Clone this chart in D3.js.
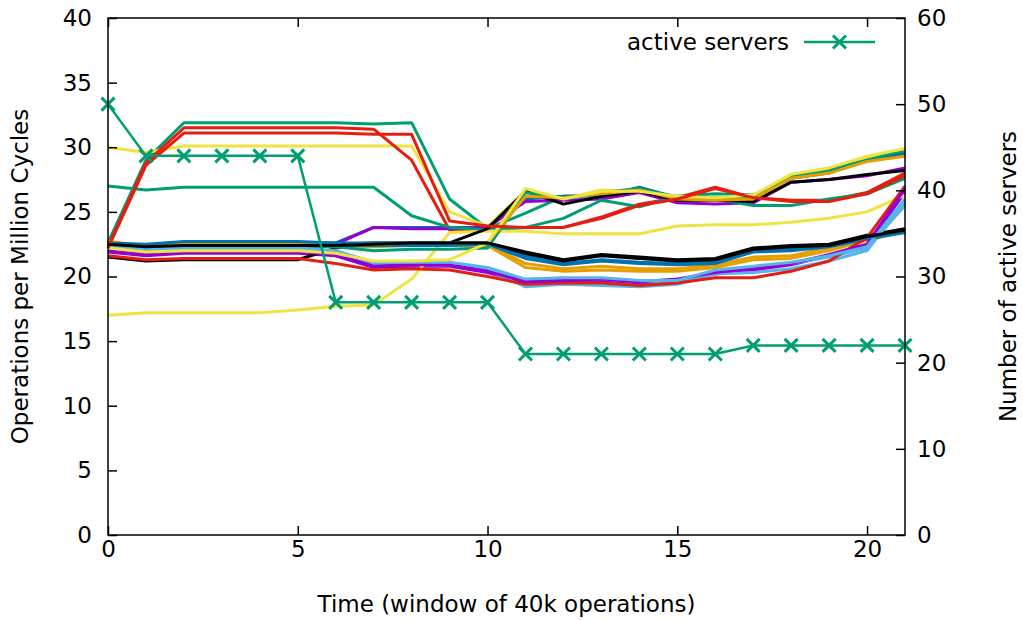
<!DOCTYPE html>
<html>
<head>
<meta charset="utf-8">
<script src="https://cdn.jsdelivr.net/npm/d3@7"></script>
<style>
  html, body { margin: 0; padding: 0; background: #fff; }
  svg { display: block; font-family: "DejaVu Sans", sans-serif; }
</style>
</head>
<body>
<svg id="chart" width="1023" height="621"></svg>
<script>
// Time windows (40k operations each)
const windows = d3.range(0, 22);

// Per-server throughput (operations per million cycles), one array per server
const s01 = [21.9,21.6,21.8,21.8,21.8,21.8,21.6,20.7,20.8,20.8,20.3,19.5,19.6,19.7,19.5,19.7,20.2,20.5,20.9,21.6,22.4,26.5];
const s02 = [22.6,29.0,31.9,31.9,31.9,31.9,31.9,31.8,31.9,26.0,23.7,24.9,26.2,26.3,26.7,26.2,26.4,26.3,27.6,28.2,29.0,29.6];
const s03 = [22.3,22.0,22.1,22.1,22.1,22.1,21.8,21.0,21.0,21.0,20.6,19.7,19.8,19.8,19.6,19.6,20.4,20.7,21.0,21.5,22.2,25.5];
const s04 = [22.6,22.3,22.5,22.5,22.5,22.5,22.4,22.4,22.5,22.5,22.5,21.0,20.6,20.8,20.6,20.6,20.9,21.5,21.6,22.2,23.0,23.4];
const s05 = [30.0,29.6,30.1,30.1,30.1,30.1,30.1,30.1,30.1,25.0,23.9,26.6,26.0,26.7,26.6,26.2,26.0,26.2,27.9,28.4,29.2,29.8];
const s06 = [22.6,22.4,22.6,22.6,22.6,22.6,22.6,23.8,23.8,23.8,23.8,26.0,26.2,26.2,26.9,26.1,26.0,26.2,27.6,28.0,29.0,29.5];
const s07 = [22.3,28.8,31.5,31.5,31.5,31.5,31.5,31.4,29.0,23.6,23.7,23.8,23.8,24.6,25.6,26.1,26.9,26.1,25.9,25.9,26.5,28.0];
const s08 = [21.5,21.2,21.3,21.3,21.3,21.3,22.2,22.5,22.6,22.6,22.6,21.9,21.3,21.7,21.5,21.3,21.4,22.2,22.4,22.5,23.2,23.7];
const s09 = [22.4,22.1,22.3,22.3,22.3,22.3,22.5,23.8,23.7,23.7,23.8,25.8,25.9,26.0,26.5,25.7,25.6,25.7,27.3,27.5,27.8,28.4];
const s10 = [27.0,26.7,26.9,26.9,26.9,26.9,26.9,26.9,24.7,23.8,23.6,23.8,24.5,25.9,25.4,26.2,26.0,25.5,25.5,26.0,26.4,27.6];
const s11 = [22.2,21.9,22.0,22.0,22.0,22.0,21.8,20.9,20.9,20.9,20.5,19.2,19.4,19.3,19.2,19.4,20.2,20.3,20.6,21.2,22.0,25.8];
const s12 = [22.5,22.2,22.4,22.4,22.4,22.4,22.3,22.3,22.4,22.4,22.4,20.7,20.4,20.5,20.4,20.4,20.7,21.3,21.4,22.0,22.8,23.5];
const s13 = [17.0,17.2,17.2,17.2,17.2,17.4,17.7,17.8,19.8,23.4,23.5,23.5,23.3,23.3,23.3,23.9,24.0,24.0,24.2,24.5,25.0,26.3];
const s14 = [22.5,22.3,22.5,22.5,22.5,22.5,22.4,22.4,22.4,22.4,22.5,21.4,20.9,21.2,21.0,20.9,21.0,21.9,22.0,22.3,22.9,23.4];
const s15 = [21.6,21.3,21.4,21.4,21.4,21.4,21.0,20.5,20.6,20.5,20.0,19.4,19.5,19.5,19.3,19.5,19.9,19.9,20.4,21.2,23.0,27.0];
const s16 = [22.4,22.1,22.3,22.3,22.3,22.3,22.5,22.6,22.6,22.6,23.7,26.6,25.6,26.2,26.6,25.9,25.9,25.8,27.3,27.5,27.9,28.2];
const s17 = [22.0,21.7,21.9,21.9,21.9,21.9,21.7,20.8,20.9,20.9,20.4,19.6,19.7,19.8,19.6,19.8,20.3,20.6,21.0,21.7,22.5,26.8];
const s18 = [22.3,22.2,22.3,22.3,22.3,22.3,22.3,22.0,22.1,22.1,22.2,26.5,26.0,26.5,26.8,26.1,26.1,26.0,27.8,28.3,29.0,29.8];
const s19 = [22.4,22.1,22.2,22.2,22.2,22.2,22.0,21.1,21.1,21.1,20.7,19.8,19.9,19.9,19.7,19.7,20.5,20.8,21.1,21.6,22.3,26.0];
const s20 = [22.7,22.4,22.6,22.6,22.6,22.6,22.5,22.5,22.6,22.6,22.6,26.2,26.1,26.4,26.7,26.0,25.9,26.0,27.6,28.0,28.9,29.3];
const s21 = [22.2,21.9,22.0,22.0,22.0,22.0,21.8,21.2,21.2,21.3,22.6,26.8,26.0,26.6,26.6,26.2,26.1,26.3,27.9,28.4,29.3,29.9];
const s22 = [22.6,22.5,22.7,22.7,22.7,22.7,22.6,22.6,22.6,22.6,22.6,21.6,21.0,21.3,21.1,21.0,21.1,22.0,22.1,22.4,23.0,23.5];
const s23 = [22.2,28.6,31.1,31.1,31.1,31.1,31.1,31.0,31.0,24.3,23.9,23.8,23.8,24.5,25.5,26.0,26.8,26.1,25.8,25.8,26.4,27.8];
const s24 = [22.5,22.3,22.4,22.4,22.4,22.4,22.4,22.5,22.6,22.6,22.6,21.8,21.2,21.6,21.4,21.2,21.3,22.1,22.3,22.4,23.1,23.6];

const serverSeries = [s01,s02,s03,s04,s05,s06,s07,s08,s09,s10,s11,s12,
                      s13,s14,s15,s16,s17,s18,s19,s20,s21,s22,s23,s24];

// Number of active servers per window (right axis)
const activeServers = [50,44,44,44,44,44,27,27,27,27,27,21,21,21,21,21,21,22,22,22,22,22];

// Tick values
const xTicks = [0, 5, 10, 15, 20];
const yTicks = [0, 5, 10, 15, 20, 25, 30, 35, 40];
const y2Ticks = [0, 10, 20, 30, 40, 50, 60];

// Line colour cycle
const palette = ["#9400d3","#009e73","#56b4e9","#e69f00","#f0e442","#0072b2","#e51e10","#000000"];
const serverColor = "#009e73";

const svg = d3.select("#chart");
const margin = { left: 108, right: 118, top: 18, bottom: 86 };
const W = 1023, H = 621;

const x = d3.scaleLinear().domain([0, 21]).range([margin.left, W - margin.right]);
const y = d3.scaleLinear().domain([0, 40]).range([H - margin.bottom, margin.top]);
const y2 = d3.scaleLinear().domain([0, 60]).range([H - margin.bottom, margin.top]);

const fontSize = 23;
const tickLen = 9;

// Per-server lines
const line = d3.line().x((d, i) => x(windows[i])).y(d => y(d));
const gLines = svg.append("g").attr("fill", "none").attr("stroke-width", 3).attr("stroke-linejoin", "round");
serverSeries.forEach((s, k) => {
  gLines.append("path")
    .attr("d", line(s))
    .attr("stroke", palette[k % palette.length]);
});

// Active servers line with cross markers
const line2 = d3.line().x((d, i) => x(windows[i])).y(d => y2(d));
svg.append("path")
  .attr("d", line2(activeServers))
  .attr("fill", "none")
  .attr("stroke", serverColor)
  .attr("stroke-width", 2.5);

function cross(g, cx, cy, r) {
  g.append("path")
    .attr("d", `M${cx - r},${cy - r}L${cx + r},${cy + r}M${cx - r},${cy + r}L${cx + r},${cy - r}`)
    .attr("stroke", serverColor)
    .attr("stroke-width", 3)
    .attr("fill", "none");
}
const gMarks = svg.append("g");
activeServers.forEach((v, i) => cross(gMarks, x(windows[i]), y2(v), 6.5));

// Axes: ticks drawn inward, labels outside the frame
const axisLeft = d3.axisLeft(y).tickValues(yTicks).tickSizeInner(-tickLen).tickSizeOuter(0).tickPadding(16);
const axisRight = d3.axisRight(y2).tickValues(y2Ticks).tickSizeInner(-tickLen).tickSizeOuter(0).tickPadding(12);
const axisBottom = d3.axisBottom(x).tickValues(xTicks).tickSizeInner(-tickLen).tickSizeOuter(0).tickPadding(6);
const axisTop = d3.axisTop(x).tickValues(xTicks).tickSizeInner(-tickLen).tickSizeOuter(0).tickFormat("");

function styleAxis(g) {
  g.select(".domain").remove();
  g.selectAll(".tick line").attr("stroke", "#000").attr("stroke-width", 1.5);
  g.selectAll(".tick text").attr("fill", "#000").style("font-size", fontSize + "px").style("font-family", "DejaVu Sans, sans-serif");
}

svg.append("g").attr("transform", `translate(${margin.left},0)`).call(axisLeft).call(styleAxis);
svg.append("g").attr("transform", `translate(${W - margin.right},0)`).call(axisRight).call(styleAxis);
svg.append("g").attr("transform", `translate(0,${H - margin.bottom})`).call(axisBottom).call(styleAxis);
svg.append("g").attr("transform", `translate(0,${margin.top})`).call(axisTop).call(styleAxis);

// Frame
svg.append("rect")
  .attr("x", margin.left).attr("y", margin.top)
  .attr("width", W - margin.left - margin.right)
  .attr("height", H - margin.top - margin.bottom)
  .attr("fill", "none").attr("stroke", "#000").attr("stroke-width", 1.5);

// Axis titles
svg.append("text")
  .attr("transform", `translate(28,${(margin.top + H - margin.bottom) / 2}) rotate(-90)`)
  .attr("text-anchor", "middle")
  .style("font-size", fontSize + "px")
  .text("Operations per Million Cycles");

svg.append("text")
  .attr("transform", `translate(1016,${(margin.top + H - margin.bottom) / 2}) rotate(-90)`)
  .attr("text-anchor", "middle")
  .style("font-size", fontSize + "px")
  .text("Number of active servers");

svg.append("text")
  .attr("x", (margin.left + W - margin.right) / 2)
  .attr("y", 612)
  .attr("text-anchor", "middle")
  .style("font-size", fontSize + "px")
  .text("Time (window of 40k operations)");

// Legend
const legY = 42;
svg.append("text")
  .attr("x", 789).attr("y", legY + 8)
  .attr("text-anchor", "end")
  .style("font-size", fontSize + "px")
  .text("active servers");
svg.append("line")
  .attr("x1", 804).attr("x2", 875).attr("y1", legY).attr("y2", legY)
  .attr("stroke", serverColor).attr("stroke-width", 2.5);
cross(svg, 839.5, legY, 6.5);
</script>
</body>
</html>
